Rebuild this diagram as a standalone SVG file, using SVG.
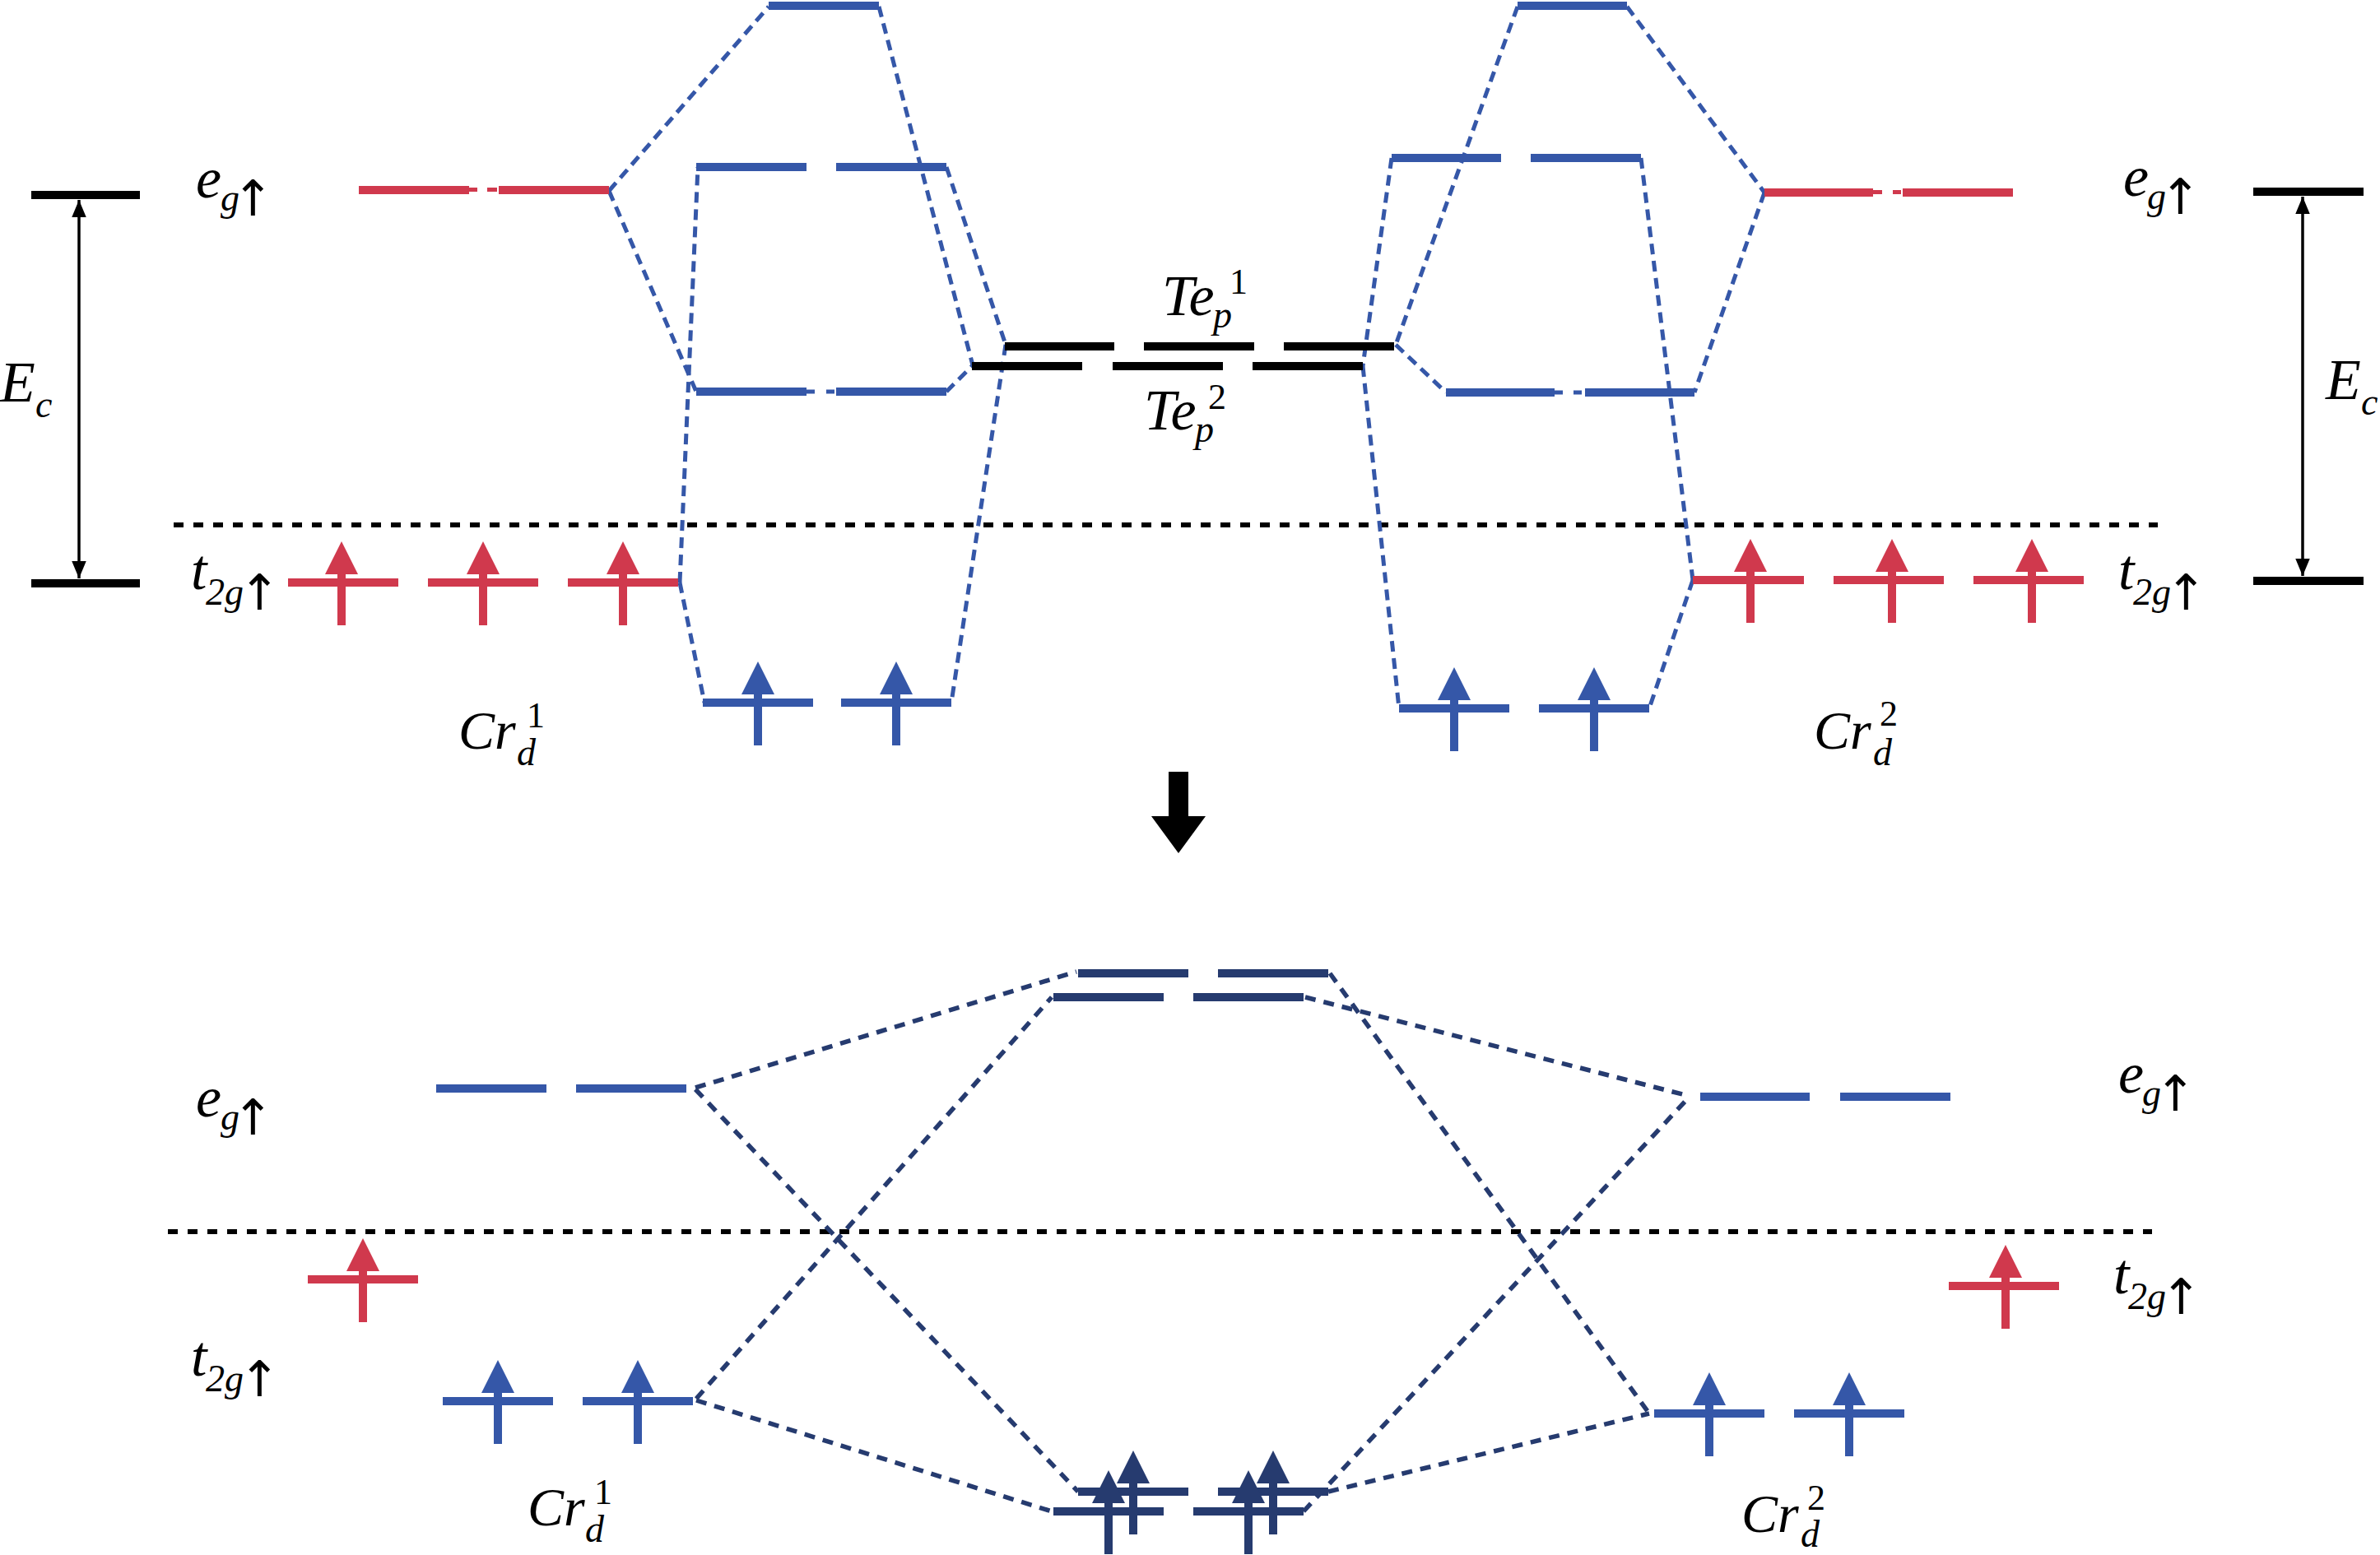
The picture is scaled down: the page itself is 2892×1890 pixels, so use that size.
<svg xmlns="http://www.w3.org/2000/svg" xmlns:xlink="http://www.w3.org/1999/xlink" width="2892" height="1890" viewBox="0 0 2892 1890">
<style>
.red{stroke:#d0394d;stroke-width:10;fill:none}
.redthin{stroke:#d0394d;stroke-width:5;fill:none}
.blue{stroke:#3557a8;stroke-width:10;fill:none}
.bluethin{stroke:#3557a8;stroke-width:5;fill:none}
.navy{stroke:#263b6f;stroke-width:10;fill:none}
.blk{stroke:#000;stroke-width:10;fill:none}
.bdash{stroke:#3557a8;stroke-width:5;stroke-dasharray:13 8;fill:none}
.ndash{stroke:#263b6f;stroke-width:5.5;stroke-dasharray:13 10;fill:none}
.dot{stroke:#000;stroke-width:6;stroke-dasharray:12 12;fill:none}
.ec{stroke:#000;stroke-width:3.5;fill:none;marker-start:url(#ah);marker-end:url(#ah)}
.lbl{font-family:'Liberation Serif','Times New Roman',serif;fill:#000}
.it{font-style:italic}
.up{font-style:normal}
.arr{font-family:'DejaVu Sans',sans-serif;font-style:normal;font-size:60px}
</style>
<defs>
<marker id="ah" viewBox="0 0 12 10" refX="12" refY="5" markerWidth="6" markerHeight="5" orient="auto-start-reverse" markerUnits="strokeWidth">
<path d="M0,0 L12,5 L0,10 Z" fill="#000"/>
</marker>
<path id="spin" d="M0,-50 L20,-10 L5,-10 L5,52 L-5,52 L-5,-10 L-20,-10 Z"/>
</defs>

<g id="connectors">
<line class="dot" x1="211" y1="638" x2="2622" y2="638"/>
<line class="dot" x1="204" y1="1497" x2="2615" y2="1497"/>
<line class="bdash" x1="740" y1="232" x2="934" y2="8"/>
<line class="bdash" x1="740" y1="232" x2="846" y2="476"/>
<line class="bdash" x1="826" y1="708" x2="848" y2="203"/>
<line class="bdash" x1="826" y1="708" x2="856" y2="854"/>
<line class="bdash" x1="1068" y1="8" x2="1182" y2="444"/>
<line class="bdash" x1="1150" y1="203" x2="1222" y2="419"/>
<line class="bdash" x1="1150" y1="476" x2="1182" y2="444"/>
<line class="bdash" x1="1222" y1="419" x2="1156" y2="854"/>
<line class="bdash" x1="1844" y1="8" x2="1696" y2="419"/>
<line class="bdash" x1="1696" y1="419" x2="1757" y2="477"/>
<line class="bdash" x1="1691" y1="192" x2="1656" y2="445"/>
<line class="bdash" x1="1656" y1="445" x2="1700" y2="861"/>
<line class="bdash" x1="1994" y1="192" x2="2057" y2="705"/>
<line class="bdash" x1="1977" y1="8" x2="2144" y2="234"/>
<line class="bdash" x1="2144" y1="234" x2="2059" y2="477"/>
<line class="bdash" x1="2057" y1="705" x2="2004" y2="861"/>
<line class="ndash" x1="845" y1="1322" x2="1308" y2="1181"/>
<line class="ndash" x1="845" y1="1324" x2="1310" y2="1813"/>
<line class="ndash" x1="846" y1="1700" x2="1278" y2="1212"/>
<line class="ndash" x1="846" y1="1702" x2="1278" y2="1837"/>
<line class="ndash" x1="1616" y1="1183" x2="2004" y2="1718"/>
<line class="ndash" x1="1586" y1="1212" x2="2052" y2="1332"/>
<line class="ndash" x1="1584" y1="1837" x2="2052" y2="1334"/>
<line class="ndash" x1="1614" y1="1813" x2="2004" y2="1718"/>
</g>

<g id="ec-left">
<line class="blk" x1="38" y1="237" x2="170" y2="237"/>
<line class="blk" x1="38" y1="709" x2="170" y2="709"/>
<line class="ec" x1="96" y1="243" x2="96" y2="703"/>
<text class="lbl it" x="0" y="488" font-size="70">E<tspan x="43" y="507" font-size="46">c</tspan></text>
</g>
<g id="ec-right">
<line class="blk" x1="2738" y1="233" x2="2872" y2="233"/>
<line class="blk" x1="2738" y1="706" x2="2872" y2="706"/>
<line class="ec" x1="2798" y1="239" x2="2798" y2="700"/>
<text class="lbl it" x="2826" y="485" font-size="70">E<tspan x="2869" y="504" font-size="46">c</tspan></text>
</g>

<g id="cr1-eg-top">
<line class="red" x1="436" y1="231" x2="570" y2="231"/>
<line class="redthin" x1="570" y1="230.5" x2="580" y2="230.5"/>
<line class="redthin" x1="592" y1="230.5" x2="604" y2="230.5"/>
<line class="red" x1="606" y1="231" x2="740" y2="231"/>
</g>
<g id="cr1-t2g-top" fill="#d0394d">
<line class="red" x1="350" y1="708" x2="484" y2="708"/>
<line class="red" x1="520" y1="708" x2="654" y2="708"/>
<line class="red" x1="690" y1="708" x2="824" y2="708"/>
<use xlink:href="#spin" x="415" y="708"/>
<use xlink:href="#spin" x="587" y="708"/>
<use xlink:href="#spin" x="757" y="708"/>
</g>
<g id="mo-left-1">
<line class="blue" x1="934" y1="7" x2="1068" y2="7"/>
</g>
<g id="mo-left-2">
<line class="blue" x1="846" y1="203" x2="980" y2="203"/>
<line class="blue" x1="1016" y1="203" x2="1150" y2="203"/>
</g>
<g id="mo-left-3">
<line class="blue" x1="846" y1="476" x2="980" y2="476"/>
<line class="bluethin" x1="980" y1="476" x2="990" y2="476"/>
<line class="bluethin" x1="1004" y1="476" x2="1014" y2="476"/>
<line class="blue" x1="1016" y1="476" x2="1150" y2="476"/>
</g>
<g id="mo-left-4" fill="#3557a8">
<line class="blue" x1="854" y1="854" x2="988" y2="854"/>
<line class="blue" x1="1022" y1="854" x2="1156" y2="854"/>
<use xlink:href="#spin" x="921" y="854"/>
<use xlink:href="#spin" x="1089" y="854"/>
</g>

<g id="te1">
<line class="blk" x1="1221" y1="421" x2="1354" y2="421"/>
<line class="blk" x1="1390" y1="421" x2="1524" y2="421"/>
<line class="blk" x1="1560" y1="421" x2="1694" y2="421"/>
<text class="lbl it" x="1412" y="383" font-size="70">Te<tspan class="up" x="1494" y="357" font-size="44">1</tspan><tspan x="1474" y="398" font-size="46">p</tspan></text>
</g>
<g id="te2">
<line class="blk" x1="1181" y1="445" x2="1315" y2="445"/>
<line class="blk" x1="1352" y1="445" x2="1486" y2="445"/>
<line class="blk" x1="1522" y1="445" x2="1656" y2="445"/>
<text class="lbl it" x="1390" y="522" font-size="70">Te<tspan class="up" x="1468" y="497" font-size="44">2</tspan><tspan x="1452" y="537" font-size="46">p</tspan></text>
</g>

<g id="mo-right-1">
<line class="blue" x1="1844" y1="7" x2="1977" y2="7"/>
</g>
<g id="mo-right-2">
<line class="blue" x1="1691" y1="192" x2="1824" y2="192"/>
<line class="blue" x1="1860" y1="192" x2="1994" y2="192"/>
</g>
<g id="mo-right-3">
<line class="blue" x1="1757" y1="477" x2="1889" y2="477"/>
<line class="bluethin" x1="1889" y1="477" x2="1899" y2="477"/>
<line class="bluethin" x1="1912" y1="477" x2="1922" y2="477"/>
<line class="blue" x1="1926" y1="477" x2="2059" y2="477"/>
</g>
<g id="mo-right-4" fill="#3557a8">
<line class="blue" x1="1700" y1="861" x2="1834" y2="861"/>
<line class="blue" x1="1870" y1="861" x2="2004" y2="861"/>
<use xlink:href="#spin" x="1767" y="861"/>
<use xlink:href="#spin" x="1937" y="861"/>
</g>
<g id="cr2-eg-top">
<line class="red" x1="2144" y1="234" x2="2276" y2="234"/>
<line class="redthin" x1="2276" y1="233.5" x2="2287" y2="233.5"/>
<line class="redthin" x1="2300" y1="233.5" x2="2310" y2="233.5"/>
<line class="red" x1="2312" y1="234" x2="2446" y2="234"/>
</g>
<g id="cr2-t2g-top" fill="#d0394d">
<line class="red" x1="2057" y1="705" x2="2192" y2="705"/>
<line class="red" x1="2228" y1="705" x2="2362" y2="705"/>
<line class="red" x1="2398" y1="705" x2="2532" y2="705"/>
<use xlink:href="#spin" x="2127" y="705"/>
<use xlink:href="#spin" x="2299" y="705"/>
<use xlink:href="#spin" x="2469" y="705"/>
</g>

<g id="lbl-eg-tl"><text class="lbl it" x="238" y="240" font-size="70">e<tspan x="268" y="256" font-size="46">g</tspan><tspan class="arr" x="282" y="262">↑</tspan></text></g>
<g id="lbl-t2g-tl"><text class="lbl it" x="232" y="716" font-size="70">t<tspan x="250" y="735" font-size="46">2g</tspan><tspan class="arr" x="290" y="741">↑</tspan></text></g>
<g id="lbl-eg-tr"><text class="lbl it" x="2580" y="238" font-size="70">e<tspan x="2609" y="254" font-size="46">g</tspan><tspan class="arr" x="2624" y="260">↑</tspan></text></g>
<g id="lbl-t2g-tr"><text class="lbl it" x="2574" y="716" font-size="70">t<tspan x="2592" y="735" font-size="46">2g</tspan><tspan class="arr" x="2631" y="741">↑</tspan></text></g>
<g id="lbl-cr1-top"><text class="lbl it" x="557" y="910" font-size="66">Cr<tspan class="up" x="640" y="884" font-size="44">1</tspan><tspan x="628" y="930" font-size="46">d</tspan></text></g>
<g id="lbl-cr2-top"><text class="lbl it" x="2204" y="910" font-size="66">Cr<tspan class="up" x="2284" y="882" font-size="44">2</tspan><tspan x="2276" y="930" font-size="46">d</tspan></text></g>

<g id="down-arrow">
<path d="M1420,938 L1444,938 L1444,992 L1465,992 L1432,1037 L1399,992 L1420,992 Z" fill="#000"/>
</g>

<g id="b-cr1-eg">
<line class="blue" x1="530" y1="1323" x2="664" y2="1323"/>
<line class="blue" x1="700" y1="1323" x2="834" y2="1323"/>
</g>
<g id="b-cr1-t2g-red" fill="#d0394d">
<line class="red" x1="374" y1="1555" x2="508" y2="1555"/>
<use xlink:href="#spin" x="441" y="1555"/>
</g>
<g id="b-cr1-t2g-blue" fill="#3557a8">
<line class="blue" x1="538" y1="1703" x2="672" y2="1703"/>
<line class="blue" x1="708" y1="1703" x2="842" y2="1703"/>
<use xlink:href="#spin" x="605" y="1703"/>
<use xlink:href="#spin" x="775" y="1703"/>
</g>
<g id="b-center-up">
<line class="navy" x1="1310" y1="1183" x2="1444" y2="1183"/>
<line class="navy" x1="1480" y1="1183" x2="1614" y2="1183"/>
<line class="navy" x1="1280" y1="1212" x2="1414" y2="1212"/>
<line class="navy" x1="1450" y1="1212" x2="1584" y2="1212"/>
</g>
<g id="b-center-down" fill="#263b6f">
<line class="navy" x1="1310" y1="1813" x2="1444" y2="1813"/>
<line class="navy" x1="1480" y1="1813" x2="1614" y2="1813"/>
<line class="navy" x1="1280" y1="1837" x2="1414" y2="1837"/>
<line class="navy" x1="1450" y1="1837" x2="1584" y2="1837"/>
<use xlink:href="#spin" x="1377" y="1813"/>
<use xlink:href="#spin" x="1547" y="1813"/>
<use xlink:href="#spin" x="1347" y="1837"/>
<use xlink:href="#spin" x="1517" y="1837"/>
</g>
<g id="b-cr2-eg">
<line class="blue" x1="2066" y1="1333" x2="2199" y2="1333"/>
<line class="blue" x1="2236" y1="1333" x2="2370" y2="1333"/>
</g>
<g id="b-cr2-t2g-red" fill="#d0394d">
<line class="red" x1="2368" y1="1563" x2="2502" y2="1563"/>
<use xlink:href="#spin" x="2437" y="1563"/>
</g>
<g id="b-cr2-t2g-blue" fill="#3557a8">
<line class="blue" x1="2010" y1="1718" x2="2144" y2="1718"/>
<line class="blue" x1="2180" y1="1718" x2="2314" y2="1718"/>
<use xlink:href="#spin" x="2077" y="1718"/>
<use xlink:href="#spin" x="2247" y="1718"/>
</g>

<g id="lbl-eg-bl"><text class="lbl it" x="238" y="1357" font-size="70">e<tspan x="268" y="1373" font-size="46">g</tspan><tspan class="arr" x="282" y="1379">↑</tspan></text></g>
<g id="lbl-t2g-bl"><text class="lbl it" x="232" y="1672" font-size="70">t<tspan x="250" y="1691" font-size="46">2g</tspan><tspan class="arr" x="290" y="1697">↑</tspan></text></g>
<g id="lbl-eg-br"><text class="lbl it" x="2574" y="1328" font-size="70">e<tspan x="2603" y="1344" font-size="46">g</tspan><tspan class="arr" x="2618" y="1350">↑</tspan></text></g>
<g id="lbl-t2g-br"><text class="lbl it" x="2568" y="1572" font-size="70">t<tspan x="2586" y="1591" font-size="46">2g</tspan><tspan class="arr" x="2625" y="1597">↑</tspan></text></g>
<g id="lbl-cr1-bot"><text class="lbl it" x="641" y="1854" font-size="66">Cr<tspan class="up" x="722" y="1828" font-size="44">1</tspan><tspan x="711" y="1874" font-size="46">d</tspan></text></g>
<g id="lbl-cr2-bot"><text class="lbl it" x="2116" y="1862" font-size="66">Cr<tspan class="up" x="2196" y="1835" font-size="44">2</tspan><tspan x="2188" y="1880" font-size="46">d</tspan></text></g>
</svg>
